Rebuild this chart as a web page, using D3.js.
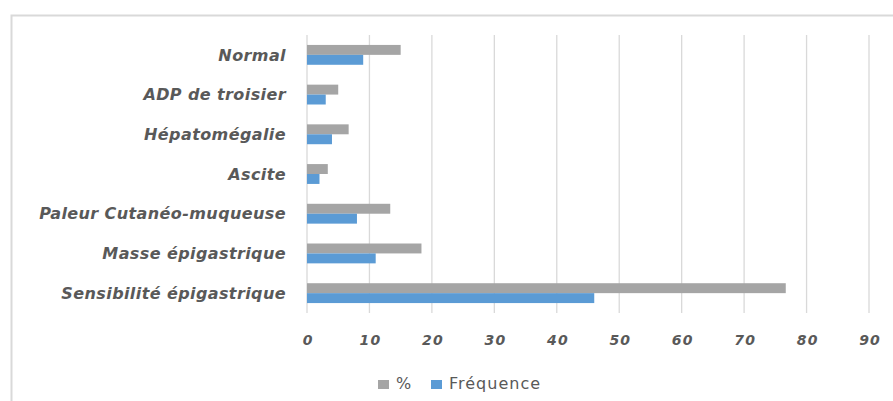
<!DOCTYPE html>
<html>
<head>
<meta charset="utf-8">
<script src="https://cdn.jsdelivr.net/npm/d3@7"></script>
<style>
  html, body { margin: 0; padding: 0; background: #fff; }
  svg { display: block; }
  .cat { font-family: "DejaVu Sans", sans-serif; font-weight: bold; font-style: italic; font-size: 16px; letter-spacing: 0.4px; fill: #595959; }
  .tick-lbl { font-family: "DejaVu Sans", sans-serif; font-weight: bold; font-style: italic; font-size: 14px; letter-spacing: 1.2px; fill: #595959; }
  .leg { font-family: "DejaVu Sans", sans-serif; font-size: 16px; letter-spacing: 1px; fill: #595959; }
</style>
</head>
<body>
<script>
// Clinical signs at examination: count and share of patients (N = 60)
const categories = [
  "Normal",
  "ADP de troisier",
  "Hépatomégalie",
  "Ascite",
  "Paleur Cutanéo-muqueuse",
  "Masse épigastrique",
  "Sensibilité épigastrique"
];
const percent   = [15, 5, 6.67, 3.33, 13.33, 18.33, 76.67];
const frequence = [9, 3, 4, 2, 8, 11, 46];
const xTicks = [0, 10, 20, 30, 40, 50, 60, 70, 80, 90];
const seriesNames = ["%", "Fréquence"];
const seriesColors = ["#a5a5a5", "#5b9bd5"];

const W = 893, H = 401;
const svg = d3.select("body").append("svg").attr("width", W).attr("height", H);

// Chart frame (only the top and left edges fall inside the view)
svg.append("path")
  .attr("d", `M11.5,${H + 2} V15.5 H${W + 2}`)
  .attr("fill", "none")
  .attr("stroke", "#d9d9d9")
  .attr("stroke-width", 2);

const plotTop = 35, plotBottom = 313;
const x = d3.scaleLinear().domain([0, 90]).range([307, 869]);
const y = d3.scaleBand().domain(categories).range([plotTop, plotBottom])
  .paddingInner(0.5).paddingOuter(0.25);
const ySub = d3.scaleBand().domain(seriesNames).range([0, y.bandwidth()]);

// Vertical gridlines
svg.append("g").selectAll("line").data(xTicks).join("line")
  .attr("x1", d => x(d)).attr("x2", d => x(d))
  .attr("y1", plotTop).attr("y2", plotBottom)
  .attr("stroke", "#d9d9d9").attr("stroke-width", 1.3);

// Bars
const rows = categories.map((c, i) => ({ c, vals: [percent[i], frequence[i]] }));
const grp = svg.append("g").selectAll("g").data(rows).join("g")
  .attr("transform", d => `translate(0,${y(d.c)})`);
grp.selectAll("rect").data(d => d.vals.map((v, j) => ({ v, s: seriesNames[j], col: seriesColors[j] })))
  .join("rect")
  .attr("x", x(0))
  .attr("y", d => ySub(d.s))
  .attr("width", d => x(d.v) - x(0))
  .attr("height", ySub.bandwidth())
  .attr("fill", d => d.col);

// Category labels
const yAxis = d3.axisLeft(y).tickSize(0).tickPadding(0);
const gy = svg.append("g").attr("transform", "translate(286,0)").call(yAxis);
gy.select(".domain").remove();
gy.selectAll("text").attr("class", "cat").attr("dy", "0.36em").attr("x", 0)
  .attr("font-size", null).attr("font-family", null);

// Value axis labels
const xAxis = d3.axisBottom(x).tickValues(xTicks).tickSize(0).tickPadding(0);
const gx = svg.append("g").attr("transform", "translate(0.6,345)").call(xAxis);
gx.select(".domain").remove();
gx.selectAll("text").attr("class", "tick-lbl").attr("dy", 0).attr("y", 0)
  .attr("font-size", null).attr("font-family", null);

// Legend
const legendItems = [
  { name: seriesNames[0], col: seriesColors[0], x: 378 },
  { name: seriesNames[1], col: seriesColors[1], x: 431 }
];
const lg = svg.append("g").selectAll("g").data(legendItems).join("g")
  .attr("transform", d => `translate(${d.x},380)`);
lg.append("rect").attr("width", 11).attr("height", 9).attr("fill", d => d.col);
lg.append("text").attr("class", "leg").attr("x", 18).attr("y", 9).text(d => d.name);
</script>
</body>
</html>
